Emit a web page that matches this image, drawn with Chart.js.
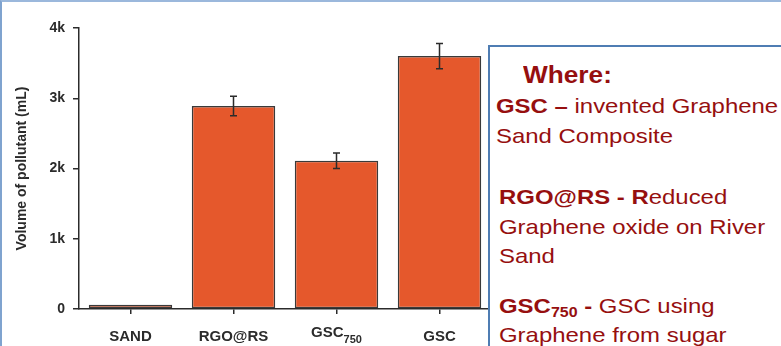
<!DOCTYPE html>
<html>
<head>
<meta charset="utf-8">
<script src="https://cdn.jsdelivr.net/npm/chart.js@4/dist/chart.umd.min.js"></script>
<style>
  html, body { margin: 0; padding: 0; width: 781px; height: 346px; overflow: hidden; background: #fff; }
  #c { position: absolute; left: 0; top: 0; }
  #note { position: absolute; left: 488px; top: 45px; width: 400px; height: 400px;
          border: 2px solid #4f7db3; background: #fff; box-sizing: border-box; }
  .ln { position: absolute; white-space: nowrap; font-family: "Liberation Sans", Arial, sans-serif;
        font-size: 21px; line-height: 30px; color: #960f0f;
        transform: scaleX(1.14); transform-origin: 0 0; }
  .ln.head { font-size: 23px; font-weight: bold; }
  .ln sub { font-size: 14px; line-height: 0; vertical-align: -4px; }
  #frame { position: absolute; left: 0; top: 0; width: 781px; height: 346px; box-sizing: border-box;
           border-left: 2px solid #7fa3cf; border-top: 2px solid #9bb8dc; pointer-events: none; }
</style>
</head>
<body>
<canvas id="c" width="781" height="346"></canvas>
<div id="note">
  <div class="ln head" style="left:33px;top:13px">Where:</div>
  <div class="ln" style="left:6px;top:44px"><b>GSC –</b> invented Graphene</div>
  <div class="ln" style="left:6px;top:74px">Sand Composite</div>
  <div class="ln" style="left:9px;top:135px"><b>RGO@RS - R</b>educed</div>
  <div class="ln" style="left:9px;top:165px">Graphene oxide on River</div>
  <div class="ln" style="left:9px;top:194px">Sand</div>
  <div class="ln" style="left:9px;top:244px"><b>GSC<sub>750</sub> -</b> GSC using</div>
  <div class="ln" style="left:9px;top:273px">Graphene from sugar</div>
</div>
<div id="frame"></div>
<script>
// Adsorbents tested and the volume of pollutant each one treated (mL)
const categories = ['SAND', 'RGO@RS', 'GSC750', 'GSC'];
const subscripts = ['', '', '750', ''];
const volumes = [60, 2890, 2110, 3600];
const errors = [0, 140, 110, 180];
const yTickValues = [0, 1000, 2000, 3000, 4000];
const yTickLabels = ['0', '1k', '2k', '3k', '4k'];

const FONT = '"Liberation Sans", Arial, sans-serif';
const INK = '#2b2b2b';

// Standard-deviation whiskers on top of each bar
const errorBars = {
  id: 'errorBars',
  afterDatasetsDraw(chart) {
    const { ctx, scales: { x, y } } = chart;
    ctx.save();
    ctx.strokeStyle = INK;
    ctx.lineWidth = 1.5;
    volumes.forEach((v, i) => {
      const e = errors[i];
      if (!e) return;
      const px = x.getPixelForValue(i);
      const top = y.getPixelForValue(v + e);
      const bot = y.getPixelForValue(v - e);
      ctx.beginPath();
      ctx.moveTo(px, top); ctx.lineTo(px, bot);
      ctx.moveTo(px - 3.5, top); ctx.lineTo(px + 3.5, top);
      ctx.moveTo(px - 3.5, bot); ctx.lineTo(px + 3.5, bot);
      ctx.stroke();
    });
    ctx.restore();
  }
};

// Category names under the axis, with subscript support
const categoryLabels = {
  id: 'categoryLabels',
  afterDraw(chart) {
    const { ctx, scales: { x } } = chart;
    ctx.save();
    ctx.fillStyle = INK;
    ctx.textBaseline = 'alphabetic';
    ctx.textAlign = 'left';
    categories.forEach((name, i) => {
      const sub = subscripts[i];
      const base = sub ? name.slice(0, name.length - sub.length) : name;
      ctx.font = 'bold 15px ' + FONT;
      const wBase = ctx.measureText(base).width;
      ctx.font = 'bold 11px ' + FONT;
      const wSub = sub ? ctx.measureText(sub).width : 0;
      const px = x.getPixelForValue(i);
      const x0 = px - (wBase + wSub) / 2;
      const baseY = sub ? 337 : 341;
      ctx.font = 'bold 15px ' + FONT;
      ctx.fillText(base, x0, baseY);
      if (sub) {
        ctx.font = 'bold 11px ' + FONT;
        ctx.fillText(sub, x0 + wBase, baseY + 6);
      }
    });
    ctx.restore();
  }
};

new Chart(document.getElementById('c'), {
  type: 'bar',
  data: {
    labels: categories,
    datasets: [{
      data: volumes,
      backgroundColor: '#e5582c',
      borderColor: '#3a3a3a',
      borderWidth: 1.5,
      borderSkipped: false,
      categoryPercentage: 0.81,
      barPercentage: 1.0
    }]
  },
  options: {
    responsive: false,
    animation: false,
    layout: { padding: { top: 28, right: 290, bottom: 0, left: 0 } },
    plugins: { legend: { display: false }, tooltip: { enabled: false } },
    scales: {
      x: {
        grid: { display: true, drawOnChartArea: false, offset: false, tickLength: 5, color: INK, lineWidth: 1.5 },
        border: { color: INK, width: 1.5 },
        ticks: { display: false },
        afterFit(s) { s.height = 37; }
      },
      y: {
        min: 0,
        max: 4000,
        afterBuildTicks(s) { s.ticks = yTickValues.map(v => ({ value: v })); },
        ticks: {
          callback: (v, i) => yTickLabels[i],
          font: { family: FONT, weight: 'bold', size: 14 },
          color: INK,
          padding: 8
        },
        grid: { drawOnChartArea: false, tickLength: 6, color: INK, lineWidth: 1.5 },
        border: { color: INK, width: 1.5 },
        title: {
          display: true,
          text: 'Volume of pollutant (mL)',
          font: { family: FONT, weight: 'bold', size: 14 },
          color: INK,
          padding: { top: 14, bottom: 0 }
        },
        afterFit(s) { s.width = 79; }
      }
    }
  },
  plugins: [errorBars, categoryLabels]
});
</script>
</body>
</html>
